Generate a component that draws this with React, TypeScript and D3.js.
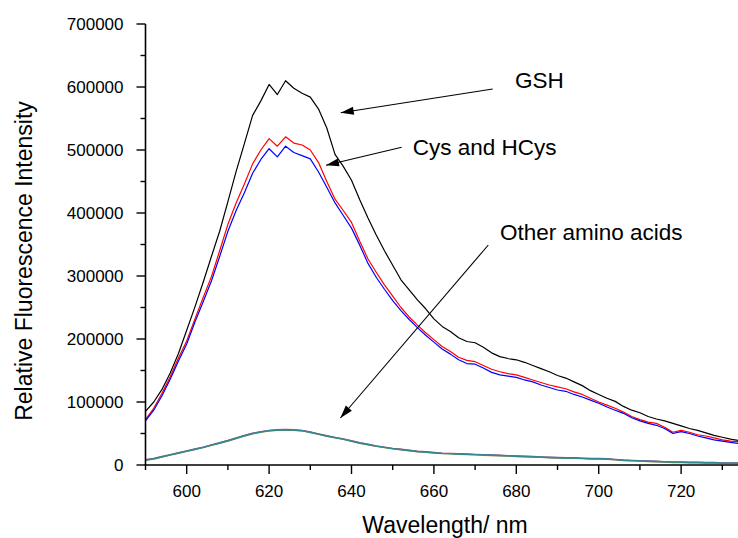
import React from "react";
import * as d3 from "d3";

const wavelengths = [590,592,594,596,598,600,602,604,606,608,610,612,614,616,618,620,622,624,626,628,630,632,634,636,638,640,642,644,646,648,650,652,654,656,658,660,662,664,666,668,670,672,674,676,678,680,682,684,686,688,690,692,694,696,698,700,702,704,706,708,710,712,714,716,718,720,722,724,726,728,730,732,734];

// intensities in thousands
const gsh = [85,100,120,146,177,214,251,290,331,371,418,466,510,555,578,604,588,610,598,590,584,565,535,493,474,452,421,392,365,340,317,294,278,262,248,232,220,212,202,196,194,187,178,172,169,167,163,158,153,148,142,138,132,126,118,112,106,101,93,87,83,77,73,70,66,62,58,55,51,47,44,41,39];
const cys = [72,90,114,140,170,197,232,266,299,340,382,416,446,478,500,518,506,521,511,508,500,480,450,422,404,385,355,327,306,286,268,250,235,222,210,199,188,180,171,166,164,158,152,148,145,143,139,135,131,127,124,121,116,112,106,100,95,90,84,77,72,68,66,60,52,55,52,48,46,43,40,38,37];
const hcys = [70,87,110,136,165,192,227,259,292,331,371,404,432,463,485,502,489,506,496,491,486,465,441,416,396,376,349,320,298,279,261,245,231,218,206,195,184,176,167,161,160,154,147,143,141,139,135,132,127,123,119,117,112,108,103,98,92,87,82,75,70,66,63,58,50,53,50,46,43,40,38,36,34];
const otherA = [8,10,13,16,19,22,25,28,31.5,35,38.5,42.5,46.5,50,52.5,54.5,55.5,56,55.5,54.5,52,49,46,43.5,41,38,35,32.5,30,28,26,24.5,23,21.5,20.5,19.5,18.5,18,17.5,17,16.5,16,15.5,15,14.5,14,13.5,13,12.5,12,11.5,11,11,10.5,10,10,9.5,8.5,7.5,7,6.5,6,5.5,5,4.5,4.5,4,4,3.5,3.5,3,3,3];
const otherB = [8.5,10.5,13.5,16.5,19.5,22.5,25.5,28.5,32,35.5,39,43,47,50.5,53,55,56,56.5,56,55,52.5,49.5,46.5,44,41.5,38.5,35.5,33,30.5,28.5,26.5,25,23.5,22,21,20,19,18.5,18,17.5,17,16.5,16,15.5,15,14.5,14,13.5,13,12.5,12,11.5,11.5,11,10.5,10.5,10,9,8,7.5,7,6.5,6,5.5,5,5,4.5,4.5,4,4,3.5,3.5,3.5];
const otherC = [7.5,9.5,12.5,15.5,18.5,21.5,24.5,27.5,31,34.5,38,42,46,49.5,52,54,55,55.5,55,54,51.5,48.5,45.5,43,40.5,37.5,34.5,32,29.5,27.5,25.5,24,22.5,21,20,19,18,17.5,17,16.5,16,15.5,15,14.5,14,13.5,13,12.5,12,11.5,11,10.5,10.5,10,9.5,9.5,9,8,7,6.5,6,5.5,5,4.5,4,4,3.5,3.5,3,3,2.5,2.5,2.5];

const series = [
  { name: "otherB", values: otherB, color: "#8a3f9a", width: 1.3 },
  { name: "otherC", values: otherC, color: "#7f8a30", width: 1.3 },
  { name: "otherA", values: otherA, color: "#2f8a94", width: 1.4 },
  { name: "GSH", values: gsh, color: "#000000", width: 1.2 },
  { name: "Cys", values: cys, color: "#ff0000", width: 1.2 },
  { name: "HCys", values: hcys, color: "#0000ff", width: 1.2 },
];

const xMajorTicks = [600, 620, 640, 660, 680, 700, 720];
const xMinorTicks = [590, 610, 630, 650, 670, 690, 710, 730];
const yMajorTicks = [0, 100000, 200000, 300000, 400000, 500000, 600000, 700000];
const yMinorTicks = [50000, 150000, 250000, 350000, 450000, 550000, 650000];

const annotations = [
  { text: "GSH", tx: 515, ty: 88, from: [492.7, 89], to: [340.7, 112.7] },
  { text: "Cys and HCys", tx: 412.7, ty: 155, from: [401.7, 147.3], to: [326, 165.3] },
  { text: "Other amino acids", tx: 500, ty: 240, from: [488.3, 245], to: [340.4, 418] },
];

const FONT = "'Liberation Sans', Arial, Helvetica, sans-serif";

export default function App() {
  const W = 738, H = 538;
  const x = d3.scaleLinear().domain([590, 734]).range([145.5, 738.8]);
  const y = d3.scaleLinear().domain([0, 700000]).range([465, 24]);
  const line = d3
    .line<number>()
    .x((_, i) => x(wavelengths[i]))
    .y((v) => y(v * 1000));

  const arrowHead = (from: number[], to: number[]) => {
    const dx = to[0] - from[0], dy = to[1] - from[1];
    const len = Math.hypot(dx, dy);
    const ux = dx / len, uy = dy / len;
    const L = 13, hw = 4;
    const bx = to[0] - ux * L, by = to[1] - uy * L;
    return `M${to[0]},${to[1]}L${bx - uy * hw},${by + ux * hw}L${bx + uy * hw},${by - ux * hw}Z`;
  };

  return (
    <svg width={W} height={H} style={{ position: "absolute", left: 0, top: 0, background: "#fff" }} fontFamily={FONT}>
      <defs>
        <clipPath id="plot">
          <rect x={145.5} y={0} width={W - 145.5} height={466} />
        </clipPath>
      </defs>
      <g clipPath="url(#plot)">
        {series.map((s) => (
          <path key={s.name} d={line(s.values) || ""} fill="none" stroke={s.color} strokeWidth={s.width} strokeLinejoin="round" />
        ))}
      </g>
      <line x1={145.5} y1={24} x2={145.5} y2={465} stroke="#000" strokeWidth={1.6} />
      <line x1={144.7} y1={465} x2={W} y2={465} stroke="#000" strokeWidth={1.6} />
      {yMajorTicks.map((t) => (
        <g key={"ym" + t}>
          <line x1={136.5} x2={145.5} y1={y(t)} y2={y(t)} stroke="#000" strokeWidth={1.4} />
          <text x={123.5} y={y(t) + 6} textAnchor="end" fontSize={17} fill="#000">{t}</text>
        </g>
      ))}
      {yMinorTicks.map((t) => (
        <line key={"yn" + t} x1={140.5} x2={145.5} y1={y(t)} y2={y(t)} stroke="#000" strokeWidth={1.4} />
      ))}
      {xMajorTicks.map((t) => (
        <g key={"xm" + t}>
          <line x1={x(t)} x2={x(t)} y1={465} y2={474} stroke="#000" strokeWidth={1.4} />
          <text x={x(t)} y={496.5} textAnchor="middle" fontSize={17} fill="#000">{t}</text>
        </g>
      ))}
      {xMinorTicks.map((t) => (
        <line key={"xn" + t} x1={x(t)} x2={x(t)} y1={465} y2={470} stroke="#000" strokeWidth={1.4} />
      ))}
      <text x={445} y={533} textAnchor="middle" fontSize={23} fill="#000">Wavelength/ nm</text>
      <text transform="translate(31.5,261) rotate(-90)" textAnchor="middle" fontSize={23} fill="#000">Relative Fluorescence Intensity</text>
      {annotations.map((a) => (
        <g key={a.text}>
          <text x={a.tx} y={a.ty} fontSize={22.5} fill="#000">{a.text}</text>
          <line x1={a.from[0]} y1={a.from[1]} x2={a.to[0]} y2={a.to[1]} stroke="#000" strokeWidth={1.1} />
          <path d={arrowHead(a.from, a.to)} fill="#000" />
        </g>
      ))}
    </svg>
  );
}
